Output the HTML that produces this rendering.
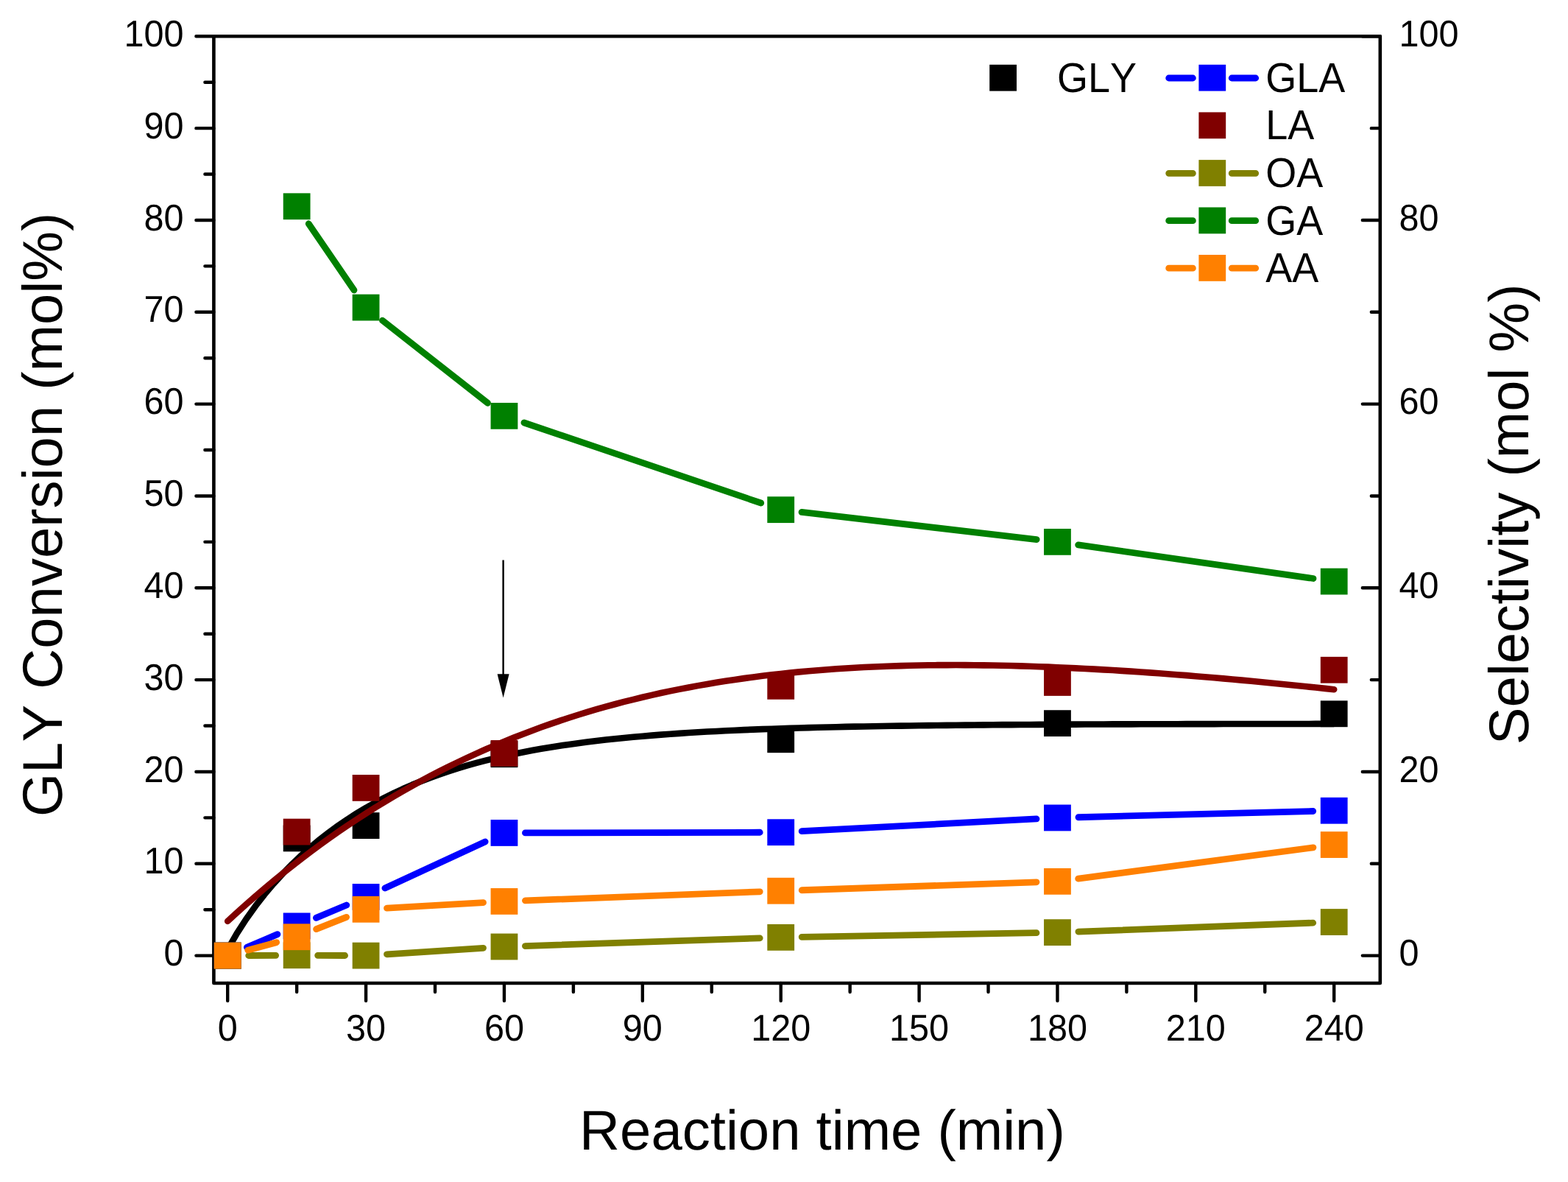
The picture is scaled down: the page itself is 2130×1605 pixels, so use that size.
<!DOCTYPE html>
<html><head><meta charset="utf-8"><title>GLY conversion and selectivity vs reaction time</title>
<style>html,body{margin:0;padding:0;background:#fff;overflow:hidden}svg{display:block}</style>
</head><body>
<svg width="2130" height="1605" viewBox="0 0 2130 1605">
<rect width="2130" height="1605" fill="#fff"/>
<line x1="683.6" y1="760.5" x2="683.6" y2="918" stroke="#000" stroke-width="2.4"/>
<path d="M675.6 915.3L691.6 915.3L683.6 947.5Z" fill="#000"/>
<path d="M290.41 49.3L1874.83 49.3L1874.83 1335.05L290.41 1335.05Z" stroke="#000" stroke-width="4.6" fill="none" stroke-linejoin="round"/>
<path d="M290.41 1297.6H266.41M290.41 1235.18H278.41M290.41 1172.77H266.41M290.41 1110.36H278.41M290.41 1047.94H266.41M290.41 985.52H278.41M290.41 923.11H266.41M290.41 860.69H278.41M290.41 798.28H266.41M290.41 735.86H278.41M290.41 673.45H266.41M290.41 611.03H278.41M290.41 548.62H266.41M290.41 486.2H278.41M290.41 423.79H266.41M290.41 361.37H278.41M290.41 298.96H266.41M290.41 236.54H278.41M290.41 174.13H266.41M290.41 111.71H278.41M290.41 49.3H266.41M1874.83 1297.6H1850.83M1874.83 1172.77H1862.83M1874.83 1047.94H1850.83M1874.83 923.11H1862.83M1874.83 798.28H1850.83M1874.83 673.45H1862.83M1874.83 548.62H1850.83M1874.83 423.79H1862.83M1874.83 298.96H1850.83M1874.83 174.13H1862.83M1874.83 49.3H1850.83M309.2 1335.05V1359.05M403.14 1335.05V1347.05M497.07 1335.05V1359.05M591.01 1335.05V1347.05M684.95 1335.05V1359.05M778.89 1335.05V1347.05M872.83 1335.05V1359.05M966.76 1335.05V1347.05M1060.7 1335.05V1359.05M1154.64 1335.05V1347.05M1248.58 1335.05V1359.05M1342.51 1335.05V1347.05M1436.45 1335.05V1359.05M1530.39 1335.05V1347.05M1624.33 1335.05V1359.05M1718.26 1335.05V1347.05M1812.2 1335.05V1359.05" stroke="#000" stroke-width="4.4" stroke-linecap="round" fill="none"/>
<g>
<rect x="290.8" y="1279.7" width="36.8" height="35.8" fill="#000000"/>
<rect x="384.74" y="1120.54" width="36.8" height="35.8" fill="#000000"/>
<rect x="478.68" y="1103.19" width="36.8" height="35.8" fill="#000000"/>
<rect x="666.55" y="1006.32" width="36.8" height="35.8" fill="#000000"/>
<rect x="1042.3" y="986.35" width="36.8" height="35.8" fill="#000000"/>
<rect x="1418.05" y="964.25" width="36.8" height="35.8" fill="#000000"/>
<rect x="1793.8" y="951.4" width="36.8" height="35.8" fill="#000000"/>
<path d="M309.2 1289.44L321.72 1267.67L334.25 1248.24L346.77 1230.66L359.3 1214.59L371.82 1199.78L384.35 1186.06L396.88 1173.3L409.4 1161.41L421.93 1150.3L434.45 1139.9L446.98 1130.17L459.5 1121.05L472.02 1112.5L484.55 1104.49L497.07 1096.97L509.6 1089.92L522.12 1083.31L534.65 1077.1L547.17 1071.28L559.7 1065.82L572.23 1060.69L584.75 1055.88L597.27 1051.37L609.8 1047.14L622.33 1043.17L634.85 1039.44L647.38 1035.94L659.9 1032.66L672.42 1029.58L684.95 1026.7L697.48 1023.98L710 1021.44L722.52 1019.05L735.05 1016.82L747.58 1014.71L760.1 1012.74L772.62 1010.89L785.15 1009.16L797.67 1007.53L810.2 1006L822.72 1004.57L835.25 1003.22L847.78 1001.96L860.3 1000.77L872.83 999.66L885.35 998.62L897.88 997.64L910.4 996.72L922.92 995.86L935.45 995.05L947.97 994.3L960.5 993.58L973.03 992.92L985.55 992.29L998.08 991.7L1010.6 991.15L1023.12 990.63L1035.65 990.15L1048.17 989.69L1060.7 989.26L1073.22 988.86L1085.75 988.49L1098.28 988.13L1110.8 987.8L1123.33 987.49L1135.85 987.2L1148.38 986.92L1160.9 986.67L1173.42 986.43L1185.95 986.2L1198.47 985.99L1211 985.79L1223.53 985.6L1236.05 985.43L1248.58 985.26L1261.1 985.11L1273.62 984.96L1286.15 984.83L1298.67 984.7L1311.2 984.58L1323.72 984.47L1336.25 984.36L1348.78 984.26L1361.3 984.17L1373.83 984.08L1386.35 984L1398.88 983.93L1411.4 983.85L1423.93 983.79L1436.45 983.72L1448.98 983.66L1461.5 983.61L1474.03 983.56L1486.55 983.51L1499.08 983.46L1511.6 983.42L1524.12 983.38L1536.65 983.34L1549.18 983.3L1561.7 983.27L1574.23 983.24L1586.75 983.21L1599.28 983.18L1611.8 983.15L1624.33 983.13L1636.85 983.11L1649.38 983.09L1661.9 983.07L1674.43 983.05L1686.95 983.03L1699.48 983.01L1712 983L1724.53 982.98L1737.05 982.97L1749.58 982.96L1762.1 982.94L1774.62 982.93L1787.15 982.92L1799.68 982.91L1812.2 982.9" stroke="#000000" stroke-width="8.6" stroke-linecap="butt" stroke-linejoin="round" fill="none"/>
<path d="M335.4 1286.39L376.94 1268.62M429.41 1246.37L470.8 1228.99M522.94 1205.98L659.09 1142.93M713.45 1130.9L1032.2 1130.26M1089.16 1128.71L1407.99 1111.97M1464.94 1109.74L1783.71 1101.48" stroke="#0000FF" stroke-width="8.8" stroke-linecap="round" fill="none"/>
<rect x="290.8" y="1279.7" width="36.8" height="35.8" fill="#0000FF"/>
<rect x="384.74" y="1239.5" width="36.8" height="35.8" fill="#0000FF"/>
<rect x="478.68" y="1200.06" width="36.8" height="35.8" fill="#0000FF"/>
<rect x="666.55" y="1113.05" width="36.8" height="35.8" fill="#0000FF"/>
<rect x="1042.3" y="1112.3" width="36.8" height="35.8" fill="#0000FF"/>
<rect x="1418.05" y="1092.58" width="36.8" height="35.8" fill="#0000FF"/>
<rect x="1793.8" y="1082.84" width="36.8" height="35.8" fill="#0000FF"/>
<rect x="384.74" y="1111.68" width="36.8" height="35.8" fill="#800000"/>
<rect x="478.68" y="1052.01" width="36.8" height="35.8" fill="#800000"/>
<rect x="666.55" y="1005.07" width="36.8" height="35.8" fill="#800000"/>
<rect x="1042.3" y="913.95" width="36.8" height="35.8" fill="#800000"/>
<rect x="1418.05" y="909.08" width="36.8" height="35.8" fill="#800000"/>
<rect x="1793.8" y="891.85" width="36.8" height="35.8" fill="#800000"/>
<path d="M337.7 1297.49L374.64 1297.34M431.64 1297.34L468.58 1297.49M525.52 1295.77L656.51 1287.32M713.43 1284.54L1032.22 1273.84M1089.2 1272.37L1407.95 1266.65M1464.93 1265.07L1783.72 1253.11" stroke="#808000" stroke-width="8.8" stroke-linecap="round" fill="none"/>
<rect x="290.8" y="1279.7" width="36.8" height="35.8" fill="#808000"/>
<rect x="384.74" y="1279.33" width="36.8" height="35.8" fill="#808000"/>
<rect x="478.68" y="1279.7" width="36.8" height="35.8" fill="#808000"/>
<rect x="666.55" y="1267.59" width="36.8" height="35.8" fill="#808000"/>
<rect x="1042.3" y="1254.98" width="36.8" height="35.8" fill="#808000"/>
<rect x="1418.05" y="1248.24" width="36.8" height="35.8" fill="#808000"/>
<rect x="1793.8" y="1234.14" width="36.8" height="35.8" fill="#808000"/>
<path d="M419.23 303.76L480.98 394.03M519.5 435.13L662.52 547.26M711.94 573.99L1033.71 683.03M1089.01 695.47L1408.14 732.57M1464.66 739.9L1783.99 785.51" stroke="#008000" stroke-width="8.8" stroke-linecap="round" fill="none"/>
<rect x="384.74" y="262.34" width="36.8" height="35.8" fill="#008000"/>
<rect x="478.68" y="399.65" width="36.8" height="35.8" fill="#008000"/>
<rect x="666.55" y="546.95" width="36.8" height="35.8" fill="#008000"/>
<rect x="1042.3" y="674.27" width="36.8" height="35.8" fill="#008000"/>
<rect x="1418.05" y="717.96" width="36.8" height="35.8" fill="#008000"/>
<rect x="1793.8" y="771.64" width="36.8" height="35.8" fill="#008000"/>
<path d="M336.72 1290.18L375.62 1279.68M429.61 1261.71L470.6 1245.36M525.53 1233.17L656.5 1225.6M713.43 1222.87L1032.22 1210.8M1089.18 1208.75L1407.97 1197.84M1464.7 1193.12L1783.95 1150.8" stroke="#FF8000" stroke-width="8.8" stroke-linecap="round" fill="none"/>
<rect x="290.8" y="1279.7" width="36.8" height="35.8" fill="#FF8000"/>
<rect x="384.74" y="1254.36" width="36.8" height="35.8" fill="#FF8000"/>
<rect x="478.68" y="1216.91" width="36.8" height="35.8" fill="#FF8000"/>
<rect x="666.55" y="1206.05" width="36.8" height="35.8" fill="#FF8000"/>
<rect x="1042.3" y="1191.82" width="36.8" height="35.8" fill="#FF8000"/>
<rect x="1418.05" y="1178.96" width="36.8" height="35.8" fill="#FF8000"/>
<rect x="1793.8" y="1129.16" width="36.8" height="35.8" fill="#FF8000"/>
<path d="M309.2 1250.91L321.72 1239.41L334.25 1228.17L346.77 1217.19L359.3 1206.47L371.82 1196.01L384.35 1185.79L396.88 1175.83L409.4 1166.11L421.93 1156.63L434.45 1147.39L446.98 1138.38L459.5 1129.6L472.02 1121.04L484.55 1112.71L497.07 1104.6L509.6 1096.7L522.12 1089.01L534.65 1081.53L547.17 1074.26L559.7 1067.19L572.23 1060.32L584.75 1053.64L597.27 1047.15L609.8 1040.86L622.33 1034.74L634.85 1028.82L647.38 1023.06L659.9 1017.49L672.42 1012.09L684.95 1006.86L697.48 1001.79L710 996.89L722.52 992.15L735.05 987.57L747.58 983.14L760.1 978.86L772.62 974.74L785.15 970.76L797.67 966.92L810.2 963.22L822.72 959.67L835.25 956.24L847.78 952.95L860.3 949.8L872.83 946.76L885.35 943.86L897.88 941.07L910.4 938.41L922.92 935.86L935.45 933.43L947.97 931.12L960.5 928.91L973.03 926.81L985.55 924.81L998.08 922.92L1010.6 921.13L1023.12 919.44L1035.65 917.84L1048.17 916.34L1060.7 914.93L1073.22 913.62L1085.75 912.39L1098.28 911.24L1110.8 910.18L1123.33 909.2L1135.85 908.3L1148.38 907.48L1160.9 906.74L1173.42 906.07L1185.95 905.47L1198.47 904.95L1211 904.49L1223.53 904.1L1236.05 903.77L1248.58 903.51L1261.1 903.31L1273.62 903.17L1286.15 903.09L1298.67 903.07L1311.2 903.1L1323.72 903.19L1336.25 903.33L1348.78 903.52L1361.3 903.76L1373.83 904.05L1386.35 904.39L1398.88 904.77L1411.4 905.2L1423.93 905.67L1436.45 906.18L1448.98 906.74L1461.5 907.33L1474.03 907.96L1486.55 908.63L1499.08 909.34L1511.6 910.08L1524.12 910.85L1536.65 911.66L1549.18 912.5L1561.7 913.37L1574.23 914.28L1586.75 915.21L1599.28 916.17L1611.8 917.16L1624.33 918.18L1636.85 919.22L1649.38 920.29L1661.9 921.38L1674.43 922.5L1686.95 923.64L1699.48 924.8L1712 925.99L1724.53 927.2L1737.05 928.43L1749.58 929.68L1762.1 930.96L1774.62 932.25L1787.15 933.56L1799.68 934.9L1812.2 936.25" stroke="#800000" stroke-width="8.6" stroke-linecap="round" stroke-linejoin="round" fill="none"/>
</g>
<g font-family='"Liberation Sans", Arial, sans-serif' fill="#000" style="font-kerning:none" text-rendering="geometricPrecision">
<text transform="translate(249.6 1311.2) scale(1 1.04)" font-size="48.6" text-anchor="end">0</text>
<text transform="translate(249.6 1186.37) scale(1 1.04)" font-size="48.6" text-anchor="end">10</text>
<text transform="translate(249.6 1061.54) scale(1 1.04)" font-size="48.6" text-anchor="end">20</text>
<text transform="translate(249.6 936.71) scale(1 1.04)" font-size="48.6" text-anchor="end">30</text>
<text transform="translate(249.6 811.88) scale(1 1.04)" font-size="48.6" text-anchor="end">40</text>
<text transform="translate(249.6 687.05) scale(1 1.04)" font-size="48.6" text-anchor="end">50</text>
<text transform="translate(249.6 562.22) scale(1 1.04)" font-size="48.6" text-anchor="end">60</text>
<text transform="translate(249.6 437.39) scale(1 1.04)" font-size="48.6" text-anchor="end">70</text>
<text transform="translate(249.6 312.56) scale(1 1.04)" font-size="48.6" text-anchor="end">80</text>
<text transform="translate(249.6 187.73) scale(1 1.04)" font-size="48.6" text-anchor="end">90</text>
<text transform="translate(249.6 62.9) scale(1 1.04)" font-size="48.6" text-anchor="end">100</text>
<text transform="translate(1900.5 1311.2) scale(1 1.04)" font-size="48.6">0</text>
<text transform="translate(1900.5 1061.54) scale(1 1.04)" font-size="48.6">20</text>
<text transform="translate(1900.5 811.88) scale(1 1.04)" font-size="48.6">40</text>
<text transform="translate(1900.5 562.22) scale(1 1.04)" font-size="48.6">60</text>
<text transform="translate(1900.5 312.56) scale(1 1.04)" font-size="48.6">80</text>
<text transform="translate(1900.5 62.9) scale(1 1.04)" font-size="48.6">100</text>
<text transform="translate(309.2 1413.1) scale(1 1.04)" font-size="48.6" text-anchor="middle">0</text>
<text transform="translate(497.07 1413.1) scale(1 1.04)" font-size="48.6" text-anchor="middle">30</text>
<text transform="translate(684.95 1413.1) scale(1 1.04)" font-size="48.6" text-anchor="middle">60</text>
<text transform="translate(872.83 1413.1) scale(1 1.04)" font-size="48.6" text-anchor="middle">90</text>
<text transform="translate(1060.7 1413.1) scale(1 1.04)" font-size="48.6" text-anchor="middle">120</text>
<text transform="translate(1248.58 1413.1) scale(1 1.04)" font-size="48.6" text-anchor="middle">150</text>
<text transform="translate(1436.45 1413.1) scale(1 1.04)" font-size="48.6" text-anchor="middle">180</text>
<text transform="translate(1624.33 1413.1) scale(1 1.04)" font-size="48.6" text-anchor="middle">210</text>
<text transform="translate(1812.2 1413.1) scale(1 1.04)" font-size="48.6" text-anchor="middle">240</text>
<text transform="translate(84 698.9) rotate(-90)" font-size="76.1" text-anchor="middle">GLY Conversion (mol%)</text>
<text transform="translate(2076.1 698.3) rotate(-90)" font-size="76.1" text-anchor="middle">Selectivity (mol %)</text>
<text transform="translate(1116.95 1560.8)" font-size="76.1" text-anchor="middle">Reaction time (min)</text>
<rect x="1344.2" y="87.8" width="36.8" height="35.8" fill="#000"/>
<text transform="translate(1436 124.9) scale(1 1.05)" font-size="54">GLY</text>
<path d="M1587.7 106H1620.4M1673.2 106H1705.7" stroke="#0000FF" stroke-width="8.8" stroke-linecap="round"/>
<rect x="1628.4" y="87.8" width="36.8" height="35.8" fill="#0000FF"/>
<text transform="translate(1719.2 124.8) scale(1 1.05)" font-size="54">GLA</text>
<rect x="1628.4" y="152.4" width="36.8" height="35.8" fill="#800000"/>
<text transform="translate(1719.2 189.4) scale(1 1.05)" font-size="54">LA</text>
<path d="M1587.7 235.3H1620.4M1673.2 235.3H1705.7" stroke="#808000" stroke-width="8.8" stroke-linecap="round"/>
<rect x="1628.4" y="217.1" width="36.8" height="35.8" fill="#808000"/>
<text transform="translate(1719.2 254.1) scale(1 1.05)" font-size="54">OA</text>
<path d="M1587.7 299.7H1620.4M1673.2 299.7H1705.7" stroke="#008000" stroke-width="8.8" stroke-linecap="round"/>
<rect x="1628.4" y="281.5" width="36.8" height="35.8" fill="#008000"/>
<text transform="translate(1719.2 318.5) scale(1 1.05)" font-size="54">GA</text>
<path d="M1587.7 364.2H1620.4M1673.2 364.2H1705.7" stroke="#FF8000" stroke-width="8.8" stroke-linecap="round"/>
<rect x="1628.4" y="346" width="36.8" height="35.8" fill="#FF8000"/>
<text transform="translate(1719.2 383) scale(1 1.05)" font-size="54">AA</text>
</g>
</svg>
</body></html>
